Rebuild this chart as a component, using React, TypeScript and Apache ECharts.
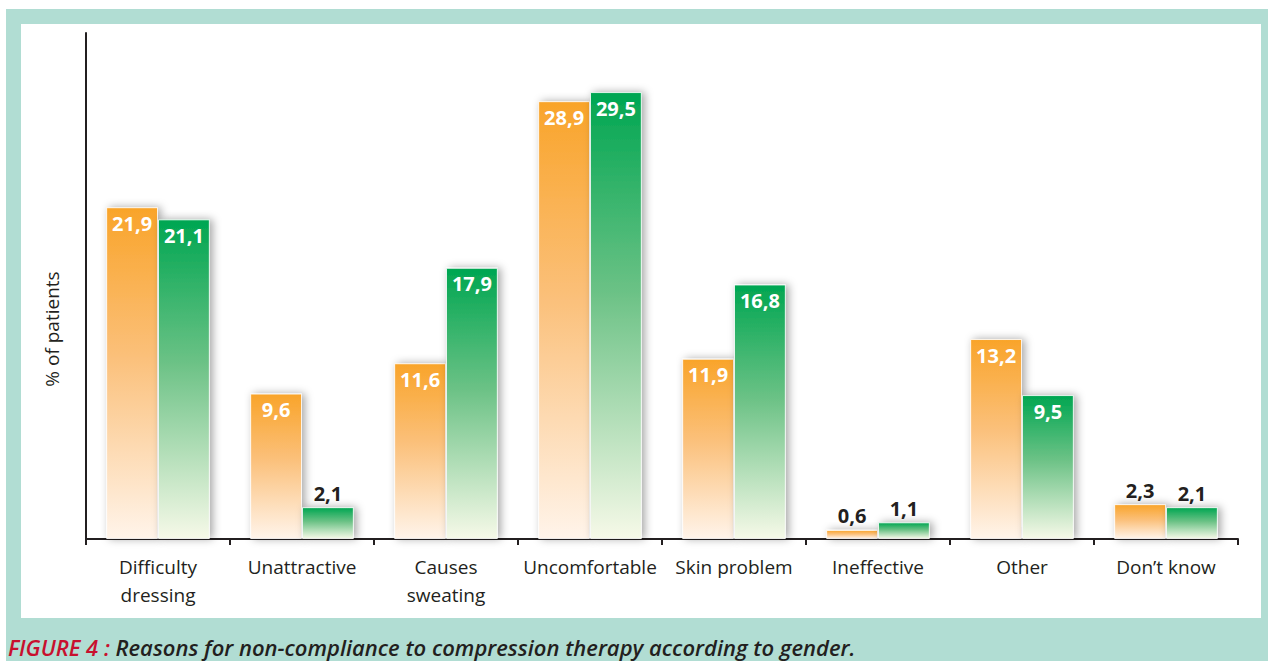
import React, { useEffect, useRef } from "react";
import * as echarts from "echarts";

const categories = [
  "Difficulty\ndressing",
  "Unattractive",
  "Causes\nsweating",
  "Uncomfortable",
  "Skin problem",
  "Ineffective",
  "Other",
  "Don\u2019t know",
];
const orangeValues = [21.9, 9.6, 11.6, 28.9, 11.9, 0.6, 13.2, 2.3];
const greenValues = [21.1, 2.1, 17.9, 29.5, 16.8, 1.1, 9.5, 2.1];
const yAxisTitle = "% of patients";
const captionLead = "FIGURE 4 : ";
const captionText = "Reasons for non-compliance to compression therapy according to gender.";

const FONT = "'Open Sans', 'Noto Sans', sans-serif";
const DARK = "#231f20";

function fmt(v: number) {
  return v.toFixed(1).replace(".", ",");
}

function makeData(values: number[]) {
  return values.map((v) => ({
    value: v,
    label:
      v < 3
        ? { position: "top", distance: 4, color: DARK }
        : { position: "insideTop", distance: 6, color: "#ffffff" },
  }));
}

export default function App() {
  const ref = useRef<HTMLDivElement>(null);
  useEffect(() => {
    if (!ref.current) return;
    const chart = echarts.init(ref.current, null, { renderer: "svg" });
    const labelBase = {
      show: true,
      fontFamily: FONT,
      fontWeight: "bold",
      fontSize: 20,
      formatter: (p: any) => fmt(p.value),
    };
    const shadow = {
      shadowColor: "rgba(0,0,0,0.35)",
      shadowBlur: 8,
      shadowOffsetX: 3,
      shadowOffsetY: 0,
    };
    chart.setOption({
      animation: false,
      graphic: [
        {
          type: "rect",
          z: -10,
          silent: true,
          shape: { x: 6, y: 9, width: 1262, height: 652 },
          style: { fill: "#b1ddd3" },
        },
        {
          type: "rect",
          z: -9,
          silent: true,
          shape: { x: 21, y: 24, width: 1240, height: 594 },
          style: { fill: "#ffffff" },
        },
        {
          type: "text",
          x: 52,
          y: 329,
          rotation: Math.PI / 2,
          style: {
            text: yAxisTitle,
            fontFamily: FONT,
            fontSize: 19,
            fill: DARK,
            align: "center",
            verticalAlign: "middle",
          },
        },
        {
          type: "text",
          x: 8,
          y: 647,
          style: {
            text: "{a|" + captionLead + "}{b|" + captionText + "}",
            verticalAlign: "middle",
            rich: {
              a: {
                fontFamily: FONT,
                fontStyle: "italic",
                fontWeight: 600,
                fontSize: 22,
                fill: "#c8102e",
              },
              b: {
                fontFamily: FONT,
                fontStyle: "italic",
                fontWeight: 600,
                fontSize: 22,
                fill: DARK,
              },
            },
          },
        },
      ],
      grid: { left: 86, right: 30, top: 33, bottom: 122, containLabel: false },
      xAxis: {
        type: "category",
        data: categories,
        axisLine: { show: true, lineStyle: { color: DARK, width: 2 } },
        axisTick: { show: true, length: 6, lineStyle: { color: DARK, width: 2 } },
        axisLabel: {
          fontFamily: FONT,
          fontSize: 19,
          color: DARK,
          lineHeight: 28,
          margin: 14,
          interval: 0,
        },
      },
      yAxis: {
        type: "value",
        min: 0,
        max: 33.4,
        axisLine: { show: true, lineStyle: { color: DARK, width: 2 } },
        axisTick: { show: false },
        axisLabel: { show: false },
        splitLine: { show: false },
      },
      series: [
        {
          type: "bar",
          data: makeData(orangeValues),
          barGap: "0%",
          barCategoryGap: "28%",
          label: labelBase,
          itemStyle: {
            color: new echarts.graphic.LinearGradient(0, 0, 0, 1, [
              { offset: 0, color: "#f9a42a" },
              { offset: 0.45, color: "#fbc07a" },
              { offset: 1, color: "#fff4ea" },
            ]),
            borderColor: "rgba(255,255,255,0.8)",
            borderWidth: 1,
            ...shadow,
          },
        },
        {
          type: "bar",
          data: makeData(greenValues),
          barGap: "0%",
          barCategoryGap: "28%",
          label: labelBase,
          itemStyle: {
            color: new echarts.graphic.LinearGradient(0, 0, 0, 1, [
              { offset: 0, color: "#00a651" },
              { offset: 0.45, color: "#6cc286" },
              { offset: 1, color: "#f6f9e8" },
            ]),
            borderColor: "rgba(255,255,255,0.8)",
            borderWidth: 1,
            ...shadow,
          },
        },
      ],
    });
    return () => chart.dispose();
  }, []);
  return (
    <div
      ref={ref}
      style={{ position: "fixed", left: 0, top: 0, width: 1268, height: 661, background: "#ffffff" }}
    />
  );
}
